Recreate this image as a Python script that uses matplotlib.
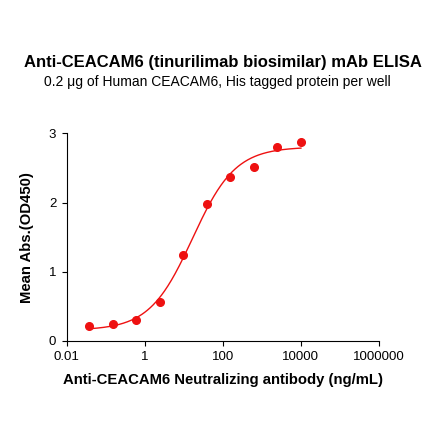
import numpy as np
import matplotlib
matplotlib.use("Agg")
import matplotlib.pyplot as plt

plt.rcParams['font.family'] = ['Liberation Sans', 'DejaVu Sans']

# concentrations (ng/mL), 4-fold dilution series
conc = [0.0381, 0.153, 0.610, 2.44, 9.77, 39.06, 156.25, 625.0, 2500.0, 10000.0]
od450 = [0.21, 0.24, 0.31, 0.56, 1.24, 1.98, 2.37, 2.52, 2.80, 2.87]

title = "Anti-CEACAM6 (tinurilimab biosimilar) mAb ELISA"
subtitle = "0.2 \u03bcg of Human CEACAM6, His tagged protein per well"
xlabel = "Anti-CEACAM6 Neutralizing antibody (ng/mL)"
ylabel = "Mean Abs.(OD450)"
xticks = [0.01, 1, 100, 10000, 1000000]
xticklabels = ["0.01", "1", "100", "10000", "1000000"]
yticks = [0, 1, 2, 3]

red = "#ee1111"


def fit_4pl(x, y):
    # grid over log EC50 and hill slope, bottom/top by linear least squares
    lx = np.log10(x)
    best = None
    for le in np.linspace(0, 3, 301):
        for h in np.linspace(0.4, 2.0, 161):
            s = 1.0 / (1.0 + 10 ** ((le - lx) * h))
            A = np.column_stack([1 - s, s])
            coef, res, _, _ = np.linalg.lstsq(A, y, rcond=None)
            err = np.sum((A @ coef - y) ** 2)
            if best is None or err < best[0]:
                best = (err, coef[0], coef[1], le, h)
    return best[1:]


x = np.array(conc)
y = np.array(od450)
bottom, top, logec50, hill = fit_4pl(x, y)
xf = np.logspace(np.log10(x.min()), np.log10(x.max()), 300)
yf = bottom + (top - bottom) / (1 + 10 ** ((logec50 - np.log10(xf)) * hill))

fig = plt.figure(figsize=(4.4, 4.41), dpi=100)
ax = fig.add_axes([0.1516, 0.2268, 0.7098, 0.4709])

ax.plot(xf, yf, color=red, lw=1.0)
ax.plot(x, y, 'o', color=red, ms=5.5, mec=red)

ax.set_xscale('log')
ax.set_xlim(0.01, 1000000)
ax.set_ylim(0, 3)
ax.set_xticks(xticks)
ax.set_xticklabels(xticklabels)
ax.minorticks_off()
ax.set_yticks(yticks)
ax.tick_params(labelsize=9.5, length=3.5, width=0.8, pad=4)

for sp in ['top', 'right']:
    ax.spines[sp].set_visible(False)
for sp in ['left', 'bottom']:
    ax.spines[sp].set_linewidth(0.8)

ax.set_xlabel(xlabel, fontsize=10.7, fontweight='bold', labelpad=7)
ax.set_ylabel(ylabel, fontsize=10.7, fontweight='bold', labelpad=11)

fig.text(0.507, 0.858, title, ha='center', va='center', fontsize=12, fontweight='bold')
fig.text(0.495, 0.813, subtitle, ha='center', va='center', fontsize=10)

fig.savefig("out.png", dpi=100)
